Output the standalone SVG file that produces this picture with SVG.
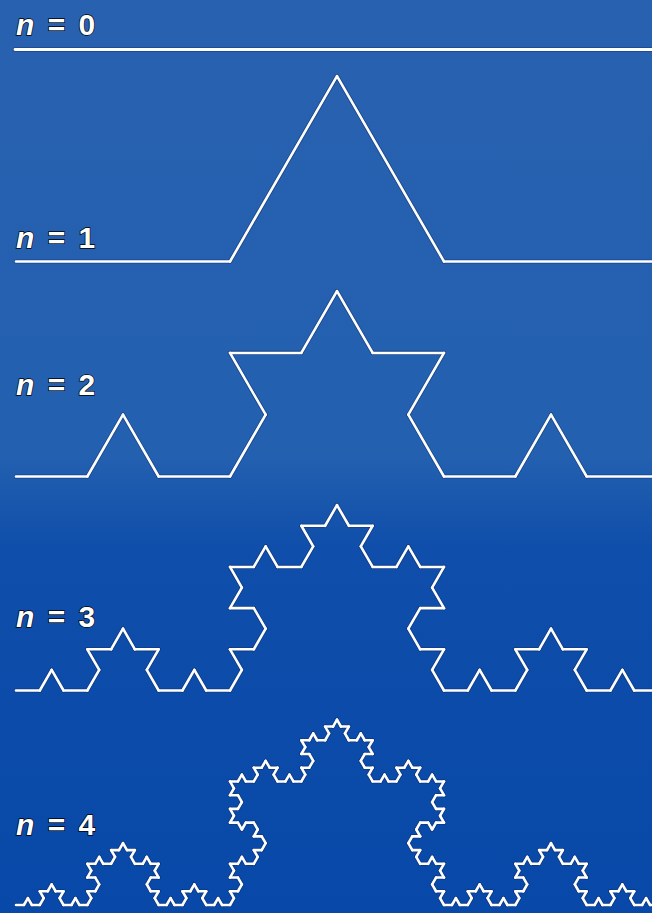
<svg xmlns="http://www.w3.org/2000/svg" xmlns:xlink="http://www.w3.org/1999/xlink" width="652" height="913" viewBox="0 0 652 913">
<style>
.lbl{font-family:"Liberation Sans",Arial,sans-serif;font-weight:bold;font-size:30px;fill:#fff;stroke:#000;stroke-width:1.4;paint-order:stroke;letter-spacing:1px;word-spacing:3px}
.lbl .n{font-style:italic}
.curve{fill:none;stroke:#fff;stroke-linecap:round;stroke-linejoin:round}
.shadow{fill:none;stroke:#12306a;stroke-opacity:0.55;stroke-linecap:round;stroke-linejoin:round}
</style>
<defs>
<linearGradient id="bg" x1="0" y1="0" x2="0" y2="1">
<stop offset="0" stop-color="#2861b0"/>
<stop offset="0.5" stop-color="#2360b0"/>
<stop offset="0.6" stop-color="#0f4eaa"/>
<stop offset="1" stop-color="#0848a8"/>
</linearGradient>
<path id="k0" d="M0 0H1"/>
<g id="k1">
<use xlink:href="#k0" transform="scale(0.3333333)"/>
<use xlink:href="#k0" transform="translate(0.3333333 0) rotate(-60) scale(0.3333333)"/>
<use xlink:href="#k0" transform="translate(0.5 -0.2886751) rotate(60) scale(0.3333333)"/>
<use xlink:href="#k0" transform="translate(0.6666667 0) scale(0.3333333)"/>
</g>
<g id="k2">
<use xlink:href="#k1" transform="scale(0.3333333)"/>
<use xlink:href="#k1" transform="translate(0.3333333 0) rotate(-60) scale(0.3333333)"/>
<use xlink:href="#k1" transform="translate(0.5 -0.2886751) rotate(60) scale(0.3333333)"/>
<use xlink:href="#k1" transform="translate(0.6666667 0) scale(0.3333333)"/>
</g>
<g id="k3">
<use xlink:href="#k2" transform="scale(0.3333333)"/>
<use xlink:href="#k2" transform="translate(0.3333333 0) rotate(-60) scale(0.3333333)"/>
<use xlink:href="#k2" transform="translate(0.5 -0.2886751) rotate(60) scale(0.3333333)"/>
<use xlink:href="#k2" transform="translate(0.6666667 0) scale(0.3333333)"/>
</g>
<g id="k4">
<use xlink:href="#k3" transform="scale(0.3333333)"/>
<use xlink:href="#k3" transform="translate(0.3333333 0) rotate(-60) scale(0.3333333)"/>
<use xlink:href="#k3" transform="translate(0.5 -0.2886751) rotate(60) scale(0.3333333)"/>
<use xlink:href="#k3" transform="translate(0.6666667 0) scale(0.3333333)"/>
</g>
</defs>
<rect width="652" height="913" fill="url(#bg)"/>

<g id="level0">
<path class="shadow" d="M15 49.5H653" stroke-width="4.4"/>
<path class="curve" d="M15 49.5H653" stroke-width="2.8"/>
<text class="lbl" x="16" y="35"><tspan class="n">n</tspan> = 0</text>
</g>

<g id="level1">
<use class="shadow" xlink:href="#k1" transform="translate(16 261.5) scale(642)" stroke-width="0.019626"/>
<use class="curve" xlink:href="#k1" transform="translate(16 261.5) scale(642)" stroke-width="0.01215"/>
<text class="lbl" x="16" y="248"><tspan class="n">n</tspan> = 1</text>
</g>

<g id="level2">
<use class="shadow" xlink:href="#k2" transform="translate(16 476.5) scale(642)" stroke-width="0.058879"/>
<use class="curve" xlink:href="#k2" transform="translate(16 476.5) scale(642)" stroke-width="0.036449"/>
<text class="lbl" x="16" y="395"><tspan class="n">n</tspan> = 2</text>
</g>

<g id="level3">
<use class="shadow" xlink:href="#k3" transform="translate(16 690.5) scale(642)" stroke-width="0.176636"/>
<use class="curve" xlink:href="#k3" transform="translate(16 690.5) scale(642)" stroke-width="0.109346"/>
<text class="lbl" x="16" y="627"><tspan class="n">n</tspan> = 3</text>
</g>

<g id="level4">
<use class="shadow" xlink:href="#k4" transform="translate(16 905) scale(642)" stroke-width="0.529907"/>
<use class="curve" xlink:href="#k4" transform="translate(16 905) scale(642)" stroke-width="0.328037"/>
<text class="lbl" x="16" y="835"><tspan class="n">n</tspan> = 4</text>
</g>
</svg>
